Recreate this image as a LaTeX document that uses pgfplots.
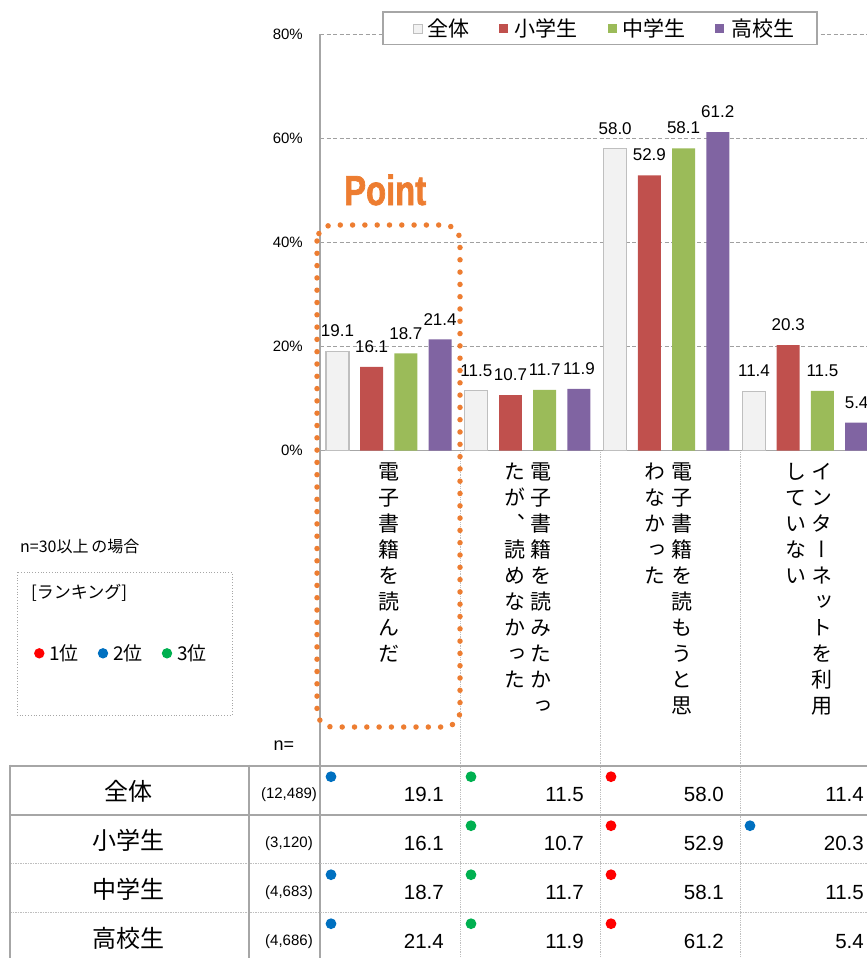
\documentclass[border=0pt]{standalone}
\usepackage{fontspec}
\setmainfont{Liberation Sans}
\newfontfamily\cjk{Noto Sans CJK JP}
\newfontfamily\cjkv[RawFeature=+vert]{Noto Sans CJK JP}
\newfontfamily\pointfont[FakeStretch=0.78,FakeBold=1.6]{Liberation Sans}
\usepackage{pgfplots}
\pgfplotsset{compat=1.18}
\definecolor{allfill}{HTML}{F2F2F2}
\definecolor{allborder}{HTML}{BFBFBF}
\definecolor{barred}{HTML}{C0504D}
\definecolor{bargreen}{HTML}{9BBB59}
\definecolor{barpurple}{HTML}{8064A2}
\definecolor{axisgray}{HTML}{A6A6A6}
\definecolor{gridgray}{HTML}{A0A0A0}
\definecolor{sepgray}{HTML}{BFBFBF}
\definecolor{pointorange}{HTML}{ED7D31}
\definecolor{dotred}{HTML}{FF0000}
\definecolor{dotblue}{HTML}{0070C0}
\definecolor{dotgreen}{HTML}{00B050}
\newcommand\fs[1]{\fontsize{#1}{#1}\selectfont}
\newcommand\vcol[2]{%
  \foreach \ch [count=\k from 0] in {#2}
    \node[anchor=base, inner sep=0pt, font=\cjkv\fs{21}] at (#1,479.7+26*\k) {\ch};}
\newcommand\trow[7]{%
  \node[anchor=base, inner sep=0pt, font=\cjk\fs{24}] at (128.5,#1+9) {#2};
  \node[anchor=base, inner sep=0pt, font=\fs{15}] at (289,#1+7) {#3};
  \node[anchor=base east, inner sep=0pt, font=\fs{20.5}] at (444,#1+10.5) {#4};
  \node[anchor=base east, inner sep=0pt, font=\fs{20.5}] at (584,#1+10.5) {#5};
  \node[anchor=base east, inner sep=0pt, font=\fs{20.5}] at (724,#1+10.5) {#6};
  \node[anchor=base east, inner sep=0pt, font=\fs{20.5}] at (864,#1+10.5) {#7};}
\begin{document}
\begin{tikzpicture}
\useasboundingbox (0pt,0pt) rectangle (867pt,-958pt);
\begin{axis}[
  at={(320pt,-450.7pt)}, anchor=south west,
  scale only axis, width=547pt, height=416.4pt,
  xmin=-0.4951, xmax=3.4443, ymin=0, ymax=80,
  ybar, bar width=0.1656,
  axis x line*=bottom, axis y line*=left,
  axis line style={draw=axisgray, line width=1.5pt, -},
  xtick=\empty,
  ytick={0,20,40,60,80},
  yticklabel={\pgfmathprintnumber{\tick}\%},
  yticklabel style={font=\fs{15}, anchor=east, inner sep=0pt, xshift=-17pt},
  major tick length=0pt,
  ymajorgrids, grid style={draw=gridgray, dash pattern=on 4pt off 2.5pt, line width=1pt},
  /pgf/number format/assume math mode=true,
  nodes near coords={\pgfmathprintnumber[fixed,fixed zerofill,precision=1]{\pgfplotspointmeta}},
  every node near coord/.append style={font=\fs{17}, inner sep=0pt, yshift=14pt, text=black},
]
\addplot[fill=allfill, draw=allborder, line width=1.2pt, bar shift=-0.3695] coordinates {(0,19.1) (1,11.5) (2,58.0) (3,11.4)};
\addplot[fill=barred, draw=none, bar shift=-0.1232] coordinates {(0,16.1) (1,10.7) (2,52.9) (3,20.3)};
\addplot[fill=bargreen, draw=none, bar shift=0.1232] coordinates {(0,18.7) (1,11.7) (2,58.1) (3,11.5)};
\addplot[fill=barpurple, draw=none, bar shift=0.3695] coordinates {(0,21.4) (1,11.9) (2,61.2) (3,5.4)};
\end{axis}
\begin{scope}[x=1pt,y=-1pt]
% legend
\draw[draw=axisgray, line width=1.5pt, fill=white] (383,12) rectangle (817,44.7);
\filldraw[fill=allfill, draw=allborder, line width=0.8pt] (413.5,24) rectangle (422.5,33);
\node[anchor=base west, inner sep=0pt, font=\cjk\fs{21}] at (427.5,36.5) {全体};
\fill[barred] (499,24) rectangle (508,33);
\node[anchor=base west, inner sep=0pt, font=\cjk\fs{21}] at (514.5,36.5) {小学生};
\fill[bargreen] (607.5,24) rectangle (616.5,33);
\node[anchor=base west, inner sep=0pt, font=\cjk\fs{21}] at (622.5,36.5) {中学生};
\fill[barpurple] (715,24) rectangle (724,33);
\node[anchor=base west, inner sep=0pt, font=\cjk\fs{21}] at (731.5,36.5) {高校生};
% label area
\draw[axisgray, line width=1.5pt] (320,450.7) -- (320,958);
\foreach \x in {460,600,740} \draw[sepgray, densely dotted, line width=0.8pt] (\x,452) -- (\x,958);
\vcol{389}{電,子,書,籍,を,読,ん,だ}
\vcol{541}{電,子,書,籍,を,読,み,た,か,っ}
\vcol{515}{た,が,、,読,め,な,か,っ,た}
\vcol{682}{電,子,書,籍,を,読,も,う,と,思}
\vcol{655}{わ,な,か,っ,た}
\vcol{822}{イ,ン,タ,ー,ネ,ッ,ト,を,利,用}
\vcol{796}{し,て,い,な,い}
% point
\node[anchor=base west, inner sep=0pt, text=pointorange, font=\pointfont\bfseries\fs{42}] at (344,205) {Point};
\draw[pointorange, line width=5.5pt, line cap=round, dash pattern=on 0pt off 12.3pt, rounded corners=16pt] (317,225) rectangle (460,727);
% ranking legend
\node[anchor=base west, inner sep=0pt, font=\cjk\fs{16}] at (20,552.5) {n=30以上\,の場合};
\draw[gray!70, dotted, line width=0.8pt] (17,572) rectangle (232,715);
\node[anchor=base west, inner sep=0pt, font=\cjk\fs{17}] at (31,598) {[ランキング]};
\fill[dotred] (39.3,653.3) circle (5.2);
\node[anchor=base west, inner sep=0pt, font=\cjk\fs{19}] at (49,660.5) {1位};
\fill[dotblue] (103,653.3) circle (5.2);
\node[anchor=base west, inner sep=0pt, font=\cjk\fs{19}] at (113,660.5) {2位};
\fill[dotgreen] (167,653.3) circle (5.2);
\node[anchor=base west, inner sep=0pt, font=\cjk\fs{19}] at (177,660.5) {3位};
\node[anchor=base west, inner sep=0pt, font=\fs{18}] at (273.5,750) {n=};
% table lines
\draw[axisgray, line width=2pt] (10,765.7) -- (867,765.7);
\draw[axisgray, line width=2pt] (10,814.5) -- (867,814.5);
\draw[sepgray, densely dotted, line width=1.5pt] (10,863.5) -- (867,863.5);
\draw[sepgray, densely dotted, line width=1.5pt] (10,912.5) -- (867,912.5);
\draw[axisgray, line width=2pt] (10,764.7) -- (10,958);
\draw[axisgray, line width=2pt] (249,764.7) -- (249,958);
% table rows
\trow{791}{全体}{(12,489)}{19.1}{11.5}{58.0}{11.4}
\trow{840}{小学生}{(3,120)}{16.1}{10.7}{52.9}{20.3}
\trow{889}{中学生}{(4,683)}{18.7}{11.7}{58.1}{11.5}
\trow{938}{高校生}{(4,686)}{21.4}{11.9}{61.2}{5.4}
% ranking dots
\fill[dotblue] (331,776.7) circle (5.4);
\fill[dotgreen] (471,776.7) circle (5.4);
\fill[dotred] (611,776.7) circle (5.4);
\fill[dotgreen] (471,825.7) circle (5.4);
\fill[dotred] (611,825.7) circle (5.4);
\fill[dotblue] (750,825.7) circle (5.4);
\fill[dotblue] (331,874.7) circle (5.4);
\fill[dotgreen] (471,874.7) circle (5.4);
\fill[dotred] (611,874.7) circle (5.4);
\fill[dotblue] (331,923.7) circle (5.4);
\fill[dotgreen] (471,923.7) circle (5.4);
\fill[dotred] (611,923.7) circle (5.4);
\end{scope}
\end{tikzpicture}
\end{document}
